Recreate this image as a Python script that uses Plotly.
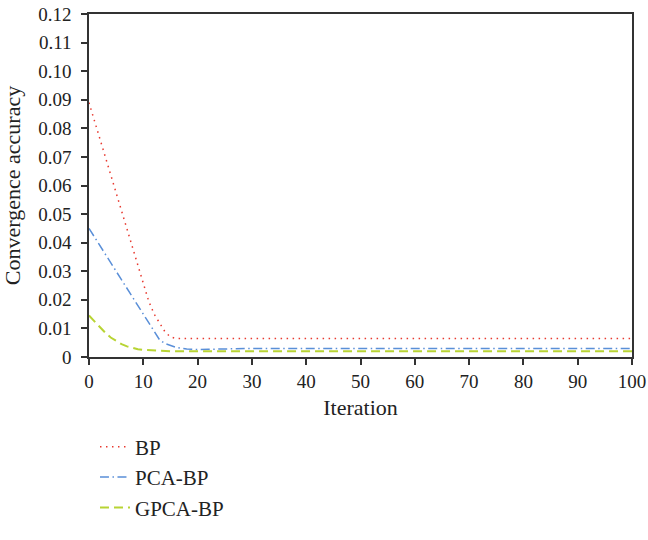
import plotly.graph_objects as go

# iterations / values
bp_x = [0, 1, 2, 3, 4, 5, 6, 7, 8, 9, 10, 11, 12, 13, 14, 15, 16, 100]
bp_y = [0.089, 0.0826, 0.0762, 0.0698, 0.0634, 0.057, 0.0506, 0.0442, 0.0378,
        0.0314, 0.0252, 0.0195, 0.0150, 0.0121, 0.0088, 0.0070, 0.0065, 0.0065]

pca_x = [0, 1, 2, 3, 4, 5, 6, 7, 8, 9, 10, 11, 12, 13, 14, 15, 16, 18, 20, 22, 25, 30, 100]
pca_y = [0.045, 0.042, 0.039, 0.0359, 0.0329, 0.0298, 0.0268, 0.0238, 0.0207,
         0.0177, 0.0146, 0.0116, 0.0086, 0.0060, 0.0047, 0.0040, 0.0034, 0.0028,
         0.0026, 0.0027, 0.0029, 0.0030, 0.0030]

gpca_x = [0, 1, 2, 3, 4, 5, 6, 7, 8, 9, 10, 12, 15, 100]
gpca_y = [0.0145, 0.0124, 0.0104, 0.0085, 0.0068, 0.0055, 0.0045, 0.0037,
          0.0031, 0.0027, 0.0025, 0.0022, 0.0020, 0.0020]

y_ticks = [0, 0.01, 0.02, 0.03, 0.04, 0.05, 0.06, 0.07, 0.08, 0.09, 0.10, 0.11, 0.12]
y_labels = ['0', '0.01', '0.02', '0.03', '0.04', '0.05', '0.06', '0.07', '0.08',
            '0.09', '0.10', '0.11', '0.12']
x_ticks = [0, 10, 20, 30, 40, 50, 60, 70, 80, 90, 100]

FONT = 'Liberation Serif'
INK = '#222222'

fig = go.Figure()
fig.add_trace(go.Scatter(x=bp_x, y=bp_y, name='BP', mode='lines', legendgroup='a',
                         line=dict(color='#e8392f', width=1.5, dash='1.5px,4.5px')))
fig.add_trace(go.Scatter(x=pca_x, y=pca_y, name='PCA-BP', mode='lines', legendgroup='b',
                         line=dict(color='#5a8fd8', width=1.5, dash='9px,3.5px,1.5px,3.5px')))
fig.add_trace(go.Scatter(x=gpca_x, y=gpca_y, name='GPCA-BP', mode='lines', legendgroup='c',
                         line=dict(color='#b8d434', width=2, dash='9px,5px')))

axis_common = dict(showgrid=False, zeroline=False, showline=True, linecolor='#333333',
                   linewidth=1.5, mirror=True, ticks='outside', ticklen=6,
                   tickcolor='#333333', tickwidth=1.5, automargin=False,
                   ticklabeloverflow='allow',
                   tickfont=dict(family=FONT, size=19, color=INK))

fig.update_xaxes(range=[0, 100], tickvals=x_ticks,
                 title=dict(text='Iteration', font=dict(family=FONT, size=22, color=INK),
                            standoff=9),
                 **axis_common)
fig.update_yaxes(range=[0, 0.12], tickvals=y_ticks, ticktext=y_labels,
                 ticklabelstandoff=6,
                 title=dict(text='Convergence accuracy', font=dict(family=FONT, size=22, color=INK),
                            standoff=12),
                 **axis_common)

fig.update_layout(
    width=648, height=540,
    margin=dict(l=89, r=16, t=14, b=168),
    plot_bgcolor='white', paper_bgcolor='white',
    font=dict(family=FONT, size=19, color=INK),
    legend=dict(x=0.011, y=-0.203, xanchor='left', yanchor='top',
                tracegroupgap=0, font=dict(family=FONT, size=21, color=INK)),
)

# drop the default 8px body margin so the figure sits at the window's corner
fig.write_html("out.html", config={'displayModeBar': False},
               post_script="document.body.style.margin = '0';")
